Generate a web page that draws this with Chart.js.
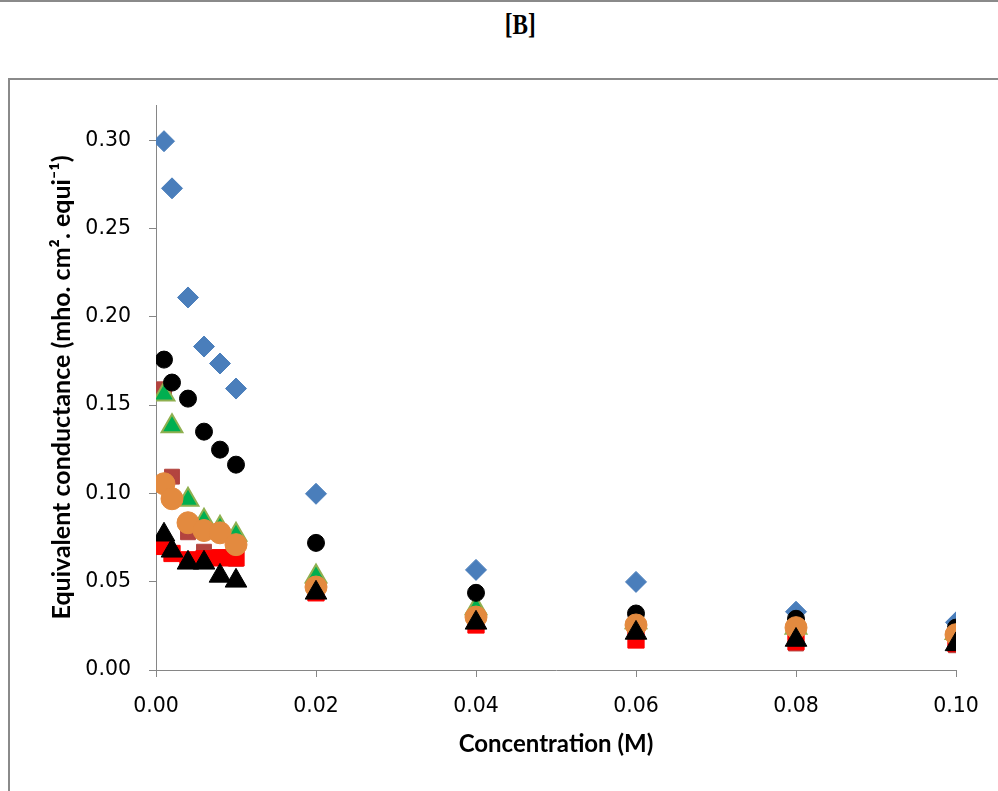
<!DOCTYPE html>
<html>
<head>
<meta charset="utf-8">
<script src="https://cdn.jsdelivr.net/npm/chart.js@4/dist/chart.umd.min.js"></script>
<style>
    html, body { margin: 0; padding: 0; background: #fff; overflow: hidden; }
    body { width: 998px; height: 791px; position: relative; }
    .topline { position: absolute; left: 0; top: 0; width: 998px; height: 2px; background: #8a8a8a; }
    .label { position: absolute; left: 0; top: 8px; width: 1040px; text-align: center; }
    .label span { display: inline-block; transform: scaleX(0.8);
                  font: bold 29px "Liberation Serif", serif; color: #000; }
    .frame { position: absolute; left: 8px; top: 78px; width: 1000px; height: 730px;
             border: 2px solid #8a8a8a; box-sizing: border-box; }
    #chart { position: absolute; left: 0; top: 0; }
</style>
</head>
<body>
<div class="topline"></div>
<div class="label"><span>[B]</span></div>
<div class="frame"></div>
<canvas id="chart" width="998" height="791"></canvas>
<script>
// concentration (M)
const conc = [0.001, 0.002, 0.004, 0.006, 0.008, 0.010, 0.02, 0.04, 0.06, 0.08, 0.10];

// equivalent conductance per series
const blueDiamond   = [0.2995, 0.2728, 0.2110, 0.1832, 0.1736, 0.1594, 0.0998, 0.0567, 0.0499, 0.0330, 0.0270];
const brownSquare   = [0.1590, 0.1095, 0.0780, 0.0670, 0.0640, 0.0630, 0.0450, 0.0260, 0.0170, 0.0150, 0.0140];
const greenTriangle = [0.1560, 0.1380, 0.0964, 0.0845, 0.0805, 0.0766, 0.0530, 0.0350, 0.0270, 0.0240, 0.0210];
const blackCircle   = [0.1758, 0.1628, 0.1537, 0.1350, 0.1248, 0.1163, 0.0720, 0.0437, 0.0320, 0.0290, 0.0240];
const redSquare     = [0.0700, 0.0660, 0.0624, 0.0630, 0.0635, 0.0635, 0.0437, 0.0255, 0.0170, 0.0160, 0.0150];
const orangeCircle  = [0.1055, 0.0970, 0.0834, 0.0790, 0.0777, 0.0710, 0.0470, 0.0300, 0.0255, 0.0240, 0.0200];
const blackTriangle = [0.0766, 0.0675, 0.0607, 0.0607, 0.0533, 0.0505, 0.0437, 0.0267, 0.0210, 0.0170, 0.0145];

const yTicks = [0, 0.05, 0.10, 0.15, 0.20, 0.25, 0.30];
const xTicks = [0, 0.02, 0.04, 0.06, 0.08, 0.10];

const series = [
    { values: blueDiamond,   style: 'rectRot',  r: 10.5, fill: '#4A7EBB', line: '#4A7EBB', bw: 1 },
    { values: brownSquare,   style: 'rect',     r: 10.5, fill: '#B3443F', line: '#B3443F', bw: 1 },
    { values: greenTriangle, style: 'triangle', r: 12,   fill: '#00AF50', line: '#8FB050', bw: 2 },
    { values: blackCircle,   style: 'circle',   r: 8.5,  fill: '#000000', line: '#000000', bw: 1 },
    { values: redSquare,     style: 'rect',     r: 11.5, fill: '#FF0000', line: '#FF0000', bw: 1 },
    { values: orangeCircle,  style: 'circle',   r: 11,   fill: '#E38A3F', line: '#E38A3F', bw: 1 },
    { values: blackTriangle, style: 'triangle', r: 12.5, fill: '#000000', line: '#000000', bw: 1 },
];

const datasets = series.map((s, i) => ({
    data: conc.map((x, j) => ({ x: x, y: s.values[j] })),
    pointStyle: s.style,
    pointRadius: s.r,
    pointHoverRadius: s.r,
    backgroundColor: s.fill,
    borderColor: s.line,
    borderWidth: s.bw,
    order: series.length - i, // later series drawn on top
}));

const axisColor = '#868686';
const tickFont = { family: '"DejaVu Sans", sans-serif', size: 20.5 };
const titleFont = { family: 'Lato, "Open Sans", sans-serif', size: 24, weight: 'bold' };

new Chart(document.getElementById('chart').getContext('2d'), {
    type: 'scatter',
    data: { datasets },
    options: {
        responsive: false,
        animation: false,
        events: [],
        layout: { padding: { top: 105, right: 42, left: 0, bottom: 0 } },
        plugins: { legend: { display: false }, tooltip: { enabled: false } },
        scales: {
            x: {
                type: 'linear',
                min: 0,
                max: 0.10,
                afterBuildTicks: (scale) => { scale.ticks = xTicks.map(v => ({ value: v })); },
                afterFit: (scale) => { scale.height = 121; },
                ticks: {
                    color: '#000',
                    font: tickFont,
                    padding: 17,
                    callback: (v) => Number(v).toFixed(2),
                },
                grid: { drawOnChartArea: false, drawTicks: true, tickLength: 7, color: axisColor },
                border: { color: axisColor, width: 1 },
                title: {
                    display: true,
                    text: 'Concentration (M)',
                    color: '#000',
                    font: titleFont,
                    padding: { top: 0, bottom: 32 },
                },
            },
            y: {
                type: 'linear',
                min: 0,
                max: 0.32,
                afterBuildTicks: (scale) => { scale.ticks = yTicks.map(v => ({ value: v })); },
                afterFit: (scale) => { scale.width = 156; },
                ticks: {
                    color: '#000',
                    font: tickFont,
                    padding: 18,
                    callback: (v) => Number(v).toFixed(2),
                },
                grid: { drawOnChartArea: false, drawTicks: true, tickLength: 7, color: axisColor },
                border: { color: axisColor, width: 1 },
                title: {
                    display: true,
                    text: 'Equivalent conductance (mho. cm\u00B2. equi\u207B\u00B9)',
                    color: '#000',
                    font: { family: 'Lato, "Open Sans", sans-serif', size: 25, weight: 'bold' },
                    padding: { top: 47, bottom: 0 },
                },
            },
        },
    },
});
</script>
</body>
</html>
